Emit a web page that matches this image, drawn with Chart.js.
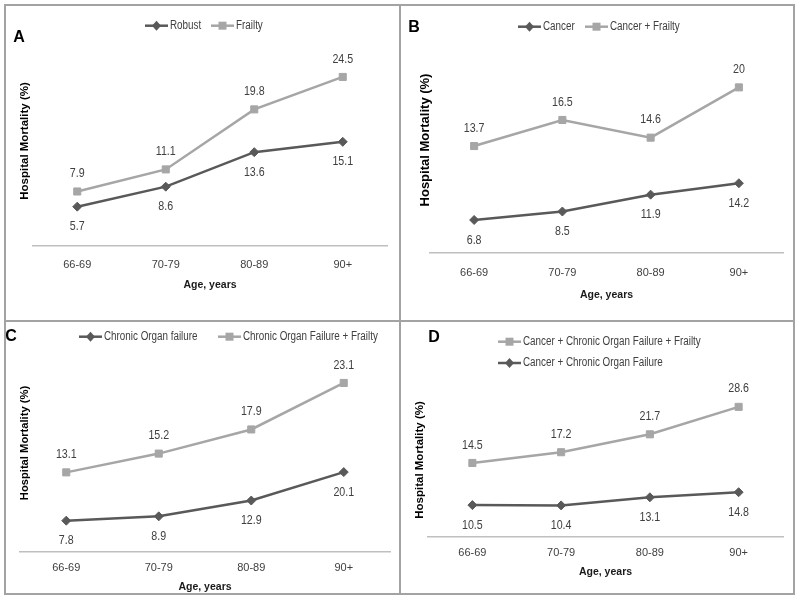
<!DOCTYPE html>
<html>
<head>
<meta charset="utf-8">
<script src="https://cdn.jsdelivr.net/npm/chart.js@4.4.1/dist/chart.umd.min.js"></script>
<style>
  body { margin: 0; background: #fff; }
  #frame { position: absolute; left: 4px; top: 4px; width: 791px; height: 591px; box-sizing: border-box; border: 2px solid #a3a3a3; }
  .vline { position: absolute; left: 399px; top: 4px; width: 2px; height: 591px; background: #a3a3a3; }
  .hline { position: absolute; left: 4px; top: 320px; width: 791px; height: 2px; background: #a3a3a3; }
  canvas { position: absolute; }
</style>
</head>
<body>
<div id="frame"></div>
<div class="vline"></div>
<div class="hline"></div>
<canvas id="chartA" width="393" height="314" style="left:6px;top:6px"></canvas>
<canvas id="chartB" width="391" height="314" style="left:402px;top:6px"></canvas>
<canvas id="chartC" width="393" height="270" style="left:6px;top:323px"></canvas>
<canvas id="chartD" width="391" height="270" style="left:402px;top:323px"></canvas>
<script>
// data (hospital mortality, %)
const ageGroups = ['66-69', '70-79', '80-89', '90+'];
const robust = [5.7, 8.6, 13.6, 15.1];
const frailty = [7.9, 11.1, 19.8, 24.5];
const cancer = [6.8, 8.5, 11.9, 14.2];
const cancerFrailty = [13.7, 16.5, 14.6, 20];
const organFailure = [7.8, 8.9, 12.9, 20.1];
const organFailureFrailty = [13.1, 15.2, 17.9, 23.1];
const cancerOrganFailure = [10.5, 10.4, 13.1, 14.8];
const cancerOrganFailureFrailty = [14.5, 17.2, 21.7, 28.6];

const DARK = '#595959';
const LIGHT = '#a6a6a6';
const TEXT = '#404040';
const SANS = '"Liberation Sans", Arial, sans-serif';
const SQUEEZE = 0.82; // the original uses a narrow font

const panels = [
  {
    id: 'chartA', letter: 'A', letterAt: [13, 32], yTitleAt: [19, 135], yTitleSize: 11.5,
    pad: { left: 27, right: 12, top: 33 }, tickPad: 12.4, titlePad: { top: -5.3, bottom: 28.7 },
    yDark: [0, 30], yLight: [0, 30],
    series: [
      { label: 'Robust', data: robust, dark: true },
      { label: 'Frailty', data: frailty, dark: false }
    ],
    legend: [[0, 139, 19.7], [1, 205, 19.7]]
  },
  {
    id: 'chartB', letter: 'B', letterAt: [12, 22], yTitleAt: [23, 134], yTitleSize: 13,
    pad: { left: 28, right: 10, top: 34 }, tickPad: 13.4, titlePad: { top: -4.3, bottom: 18.7 },
    yDark: [0.14, 43.08], yLight: [2.21, 25.09],
    series: [
      { label: 'Cancer', data: cancer, dark: true },
      { label: 'Cancer + Frailty', data: cancerFrailty, dark: false }
    ],
    legend: [[0, 116, 20.7], [1, 183, 20.7]]
  },
  {
    id: 'chartC', letter: 'C', letterAt: [5, 14], yTitleAt: [19, 120], yTitleSize: 11.2,
    pad: { left: 14, right: 9, top: 37 }, tickPad: 9.4, titlePad: { top: -3.3, bottom: -0.3 },
    yDark: [-0.13, 48.48], yLight: [4.19, 25.67],
    series: [
      { label: 'Chronic Organ failure', data: organFailure, dark: true },
      { label: 'Chronic Organ Failure + Frailty', data: organFailureFrailty, dark: false }
    ],
    legend: [[0, 73, 13.7], [1, 212, 13.7]]
  },
  {
    id: 'chartD', letter: 'D', letterAt: [32, 15], yTitleAt: [18, 137], yTitleSize: 11.5,
    pad: { left: 26, right: 10, top: 47 }, tickPad: 9.4, titlePad: { top: -3.3, bottom: 14.7 },
    yDark: [-0.13, 55.53], yLight: [-4.1, 37.86],
    series: [
      { label: 'Cancer + Chronic Organ Failure + Frailty', data: cancerOrganFailureFrailty, dark: false },
      { label: 'Cancer + Chronic Organ Failure', data: cancerOrganFailure, dark: true }
    ],
    legend: [[0, 96, 18.7], [1, 96, 40]]
  }
];

function drawMarker(ctx, dark, x, y) {
  ctx.fillStyle = dark ? DARK : LIGHT;
  ctx.beginPath();
  if (dark) {
    ctx.moveTo(x, y - 5); ctx.lineTo(x + 4.5, y); ctx.lineTo(x, y + 5); ctx.lineTo(x - 4.5, y);
  } else {
    ctx.rect(x - 4, y - 4, 8, 8);
  }
  ctx.closePath();
  ctx.fill();
}

// text squeezed sideways
function narrowText(ctx, text, x, y) {
  ctx.save();
  ctx.translate(x, y);
  ctx.scale(SQUEEZE, 1);
  ctx.fillText(text, 0, 0);
  ctx.restore();
}

// letter, y title, legend and value labels
function decor(p) {
  return {
    id: 'decor',
    afterDatasetsDraw(chart) {
      const ctx = chart.ctx;
      ctx.save();
      ctx.textBaseline = 'middle';
      ctx.textAlign = 'center';
      ctx.font = '13px ' + SANS;
      ctx.fillStyle = TEXT;
      chart.data.datasets.forEach((ds, i) => {
        const meta = chart.getDatasetMeta(i);
        meta.data.forEach((pt, j) => {
          const dy = ds.dark ? 20 : -18;
          narrowText(ctx, String(ds.data[j]), pt.x, pt.y + dy);
        });
      });
      ctx.restore();
    },
    afterDraw(chart) {
      const ctx = chart.ctx;
      ctx.save();
      ctx.textBaseline = 'middle';
      // panel letter
      ctx.fillStyle = '#000';
      ctx.font = 'bold 16px ' + SANS;
      ctx.textAlign = 'center';
      ctx.fillText(p.letter, p.letterAt[0], p.letterAt[1]);
      // y title
      ctx.save();
      ctx.translate(p.yTitleAt[0], p.yTitleAt[1]);
      ctx.rotate(-Math.PI / 2);
      ctx.font = 'bold ' + p.yTitleSize + 'px ' + SANS;
      ctx.fillText('Hospital Mortality (%)', 0, 0);
      ctx.restore();
      // legend
      ctx.textAlign = 'left';
      ctx.font = '12px ' + SANS;
      p.legend.forEach(([idx, x, y]) => {
        const s = p.series[idx];
        ctx.strokeStyle = s.dark ? DARK : LIGHT;
        ctx.lineWidth = 2.5;
        ctx.beginPath();
        ctx.moveTo(x, y);
        ctx.lineTo(x + 23, y);
        ctx.stroke();
        drawMarker(ctx, s.dark, x + 11.5, y);
        ctx.fillStyle = TEXT;
        narrowText(ctx, s.label, x + 25, y);
      });
      ctx.restore();
    }
  };
}

panels.forEach(p => {
  new Chart(document.getElementById(p.id).getContext('2d'), {
    type: 'line',
    data: {
      labels: ageGroups,
      datasets: p.series.map(s => ({
        label: s.label,
        data: s.data,
        dark: s.dark,
        yAxisID: s.dark ? 'y' : 'y2',
        borderColor: s.dark ? DARK : LIGHT,
        backgroundColor: s.dark ? DARK : LIGHT,
        borderWidth: 2.5,
        pointStyle: s.dark ? 'rectRot' : 'rect',
        pointRadius: s.dark ? 4.5 : 5,
        pointBorderWidth: 1,
        tension: 0
      }))
    },
    options: {
      responsive: false,
      animation: false,
      layout: { padding: { left: p.pad.left, right: p.pad.right, top: p.pad.top, bottom: 0 } },
      plugins: { legend: { display: false }, tooltip: { enabled: false } },
      scales: {
        x: {
          offset: true,
          grid: { display: false, drawTicks: false },
          border: { color: '#bfbfbf', width: 1.5 },
          ticks: { color: TEXT, padding: p.tickPad, font: { family: SANS, size: 11 } },
          title: {
            display: true, text: 'Age, years', color: '#1a1a1a',
            font: { family: SANS, size: 10.5, weight: 'bold' },
            padding: p.titlePad
          }
        },
        y: { display: false, min: p.yDark[0], max: p.yDark[1] },
        y2: { display: false, min: p.yLight[0], max: p.yLight[1] }
      }
    },
    plugins: [decor(p)]
  });
});
</script>
</body>
</html>
